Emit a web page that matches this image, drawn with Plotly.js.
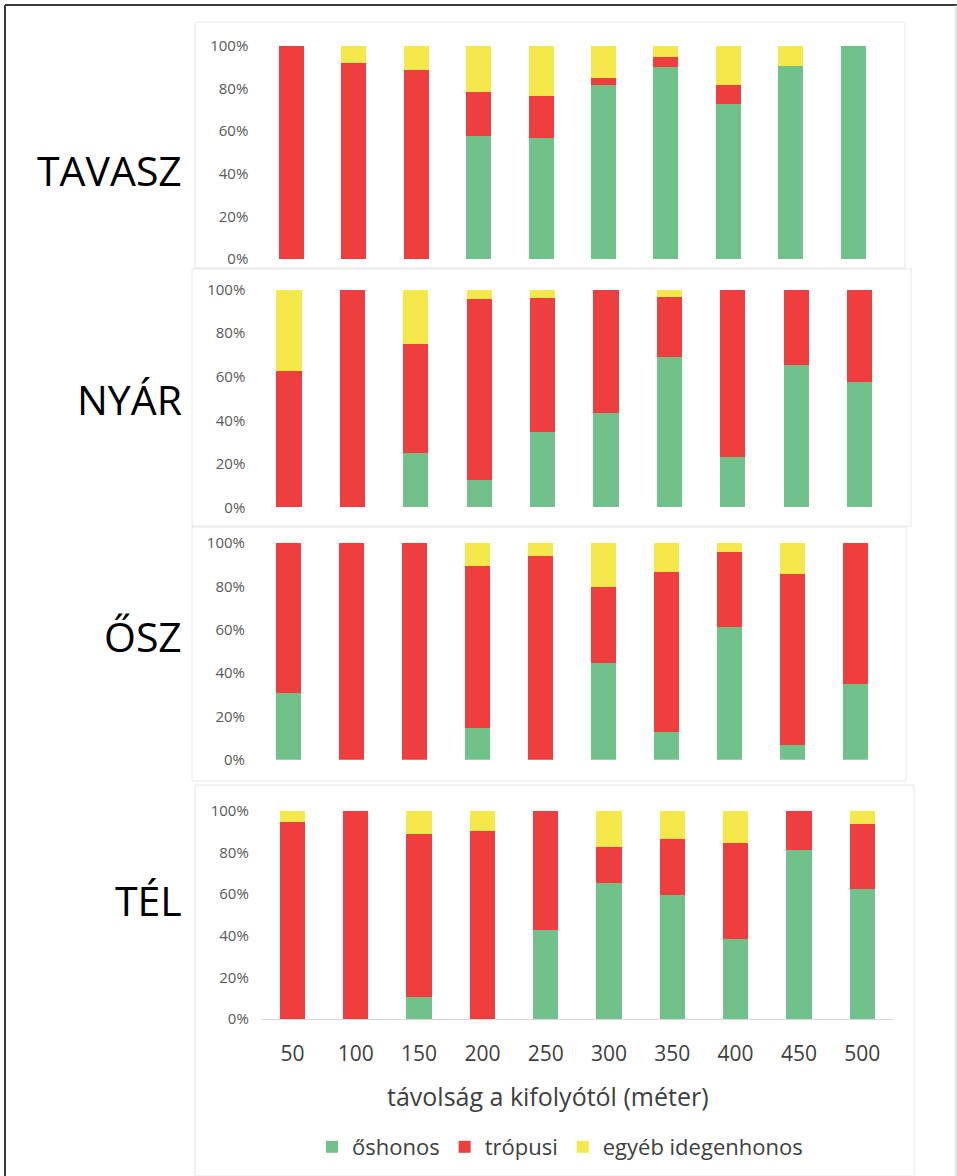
<!DOCTYPE html>
<html>
<head>
<meta charset="utf-8">
<script src="https://cdn.plot.ly/plotly-3.0.1.min.js"></script>
<style>html,body{margin:0;padding:0;background:#fff;}#chart{width:957px;height:1176px;}</style>
</head>
<body>
<div id="chart"></div>
<script>
// Distance categories (m)
const categories = ['50','100','150','200','250','300','350','400','450','500'];
const seriesNames = ['őshonos', 'trópusi', 'egyéb idegenhonos'];
const seasonLabels = ['TAVASZ', 'NYÁR', 'ŐSZ', 'TÉL'];
const xTitle = 'távolság a kifolyótól (méter)';
const yTickVals = [0, 20, 40, 60, 80, 100];
const yTickText = ['0%', '20%', '40%', '60%', '80%', '100%'];

// Share (%) of each group per distance
const tavaszGreen  = [0, 0, 0, 57.7, 57.0, 81.6, 90.0, 73.0, 90.8, 100];
const tavaszRed    = [100, 92.2, 88.6, 20.9, 19.3, 3.2, 5.0, 8.6, 0, 0];
const tavaszYellow = [0, 7.8, 11.4, 21.4, 23.7, 15.2, 5.0, 18.4, 9.2, 0];

const nyarGreen  = [0, 0, 25.1, 12.7, 34.8, 43.2, 68.9, 23.0, 65.2, 57.7];
const nyarRed    = [62.8, 100, 50.1, 83.2, 61.5, 56.8, 27.9, 77.0, 34.8, 42.3];
const nyarYellow = [37.2, 0, 24.8, 4.1, 3.7, 0, 3.2, 0, 0, 0];

const oszGreen  = [30.8, 0, 0, 14.6, 0, 44.8, 12.8, 61.2, 6.8, 35.1];
const oszRed    = [69.2, 100, 100, 74.9, 94.2, 35.0, 74.0, 34.8, 78.7, 64.9];
const oszYellow = [0, 0, 0, 10.5, 5.8, 20.2, 13.2, 4.0, 14.5, 0];

const telGreen  = [0, 0, 10.6, 0, 42.6, 65.4, 59.6, 38.5, 81.3, 62.3];
const telRed    = [94.9, 100, 78.5, 90.4, 57.4, 17.5, 27.1, 46.3, 18.7, 31.6];
const telYellow = [5.1, 0, 10.9, 9.6, 0, 17.1, 13.3, 15.2, 0, 6.1];

const seasons = [
  [tavaszGreen, tavaszRed, tavaszYellow],
  [nyarGreen, nyarRed, nyarYellow],
  [oszGreen, oszRed, oszYellow],
  [telGreen, telRed, telYellow]
];

const colors = ['#70c28a', '#ee3e3e', '#f5e84a'];
const W = 957, H = 1176;
const FONT = '"Open Sans", "Noto Sans", sans-serif';

// Pixel geometry of each panel (x: plot left/right, y: 100% and 0% positions)
const panels = [
  {x0: 260.3, x1: 884.3, yTop: 46,    yBot: 259,    labelY: 170, box: [195, 22, 905, 268]},
  {x0: 257.3, x1: 891.3, yTop: 289.7, yBot: 507.3,  labelY: 399, box: [192, 269, 911, 526]},
  {x0: 257.0, x1: 887.0, yTop: 543,   yBot: 759.7,  labelY: 636, box: [192, 527, 906, 781]},
  {x0: 260.85,x1: 893.85,yTop: 811,   yBot: 1019,   labelY: 900, box: [195, 785, 914, 1176]}
];
const px = v => v / W;
const py = v => 1 - v / H;

const traces = [];
seasons.forEach((s, i) => {
  const suf = i === 0 ? '' : String(i + 1);
  s.forEach((vals, j) => {
    traces.push({
      type: 'bar',
      x: categories,
      y: vals,
      name: seriesNames[j],
      legendgroup: seriesNames[j],
      showlegend: i === 0,
      marker: {color: colors[j], line: {width: 0}},
      xaxis: 'x' + suf,
      yaxis: 'y' + suf,
      hoverinfo: 'skip'
    });
  });
});

const layout = {
  width: W, height: H,
  margin: {l: 0, r: 0, t: 0, b: 0},
  paper_bgcolor: '#ffffff',
  plot_bgcolor: 'rgba(0,0,0,0)',
  barmode: 'stack',
  bargap: 0.6,
  font: {family: FONT, color: '#595959'},
  showlegend: true,
  legend: {
    orientation: 'h',
    x: px(560), xanchor: 'center',
    y: py(1147), yanchor: 'middle',
    font: {family: FONT, size: 22, color: '#404040'},
    itemwidth: 30,
    traceorder: 'normal'
  },
  annotations: [],
  shapes: []
};

panels.forEach((p, i) => {
  const suf = i === 0 ? '' : String(i + 1);
  const last = i === panels.length - 1;
  layout['xaxis' + suf] = {
    domain: [px(p.x0), px(p.x1)],
    anchor: 'y' + suf,
    type: 'category',
    showgrid: false,
    zeroline: false,
    showline: last,
    linecolor: '#d9d9d9',
    linewidth: 1,
    ticks: '',
    showticklabels: last,
    tickfont: {family: FONT, size: 21, color: '#404040'},
    ticklabelstandoff: 16,
    fixedrange: true
  };
  layout['yaxis' + suf] = {
    domain: [py(p.yBot), py(p.yTop)],
    anchor: 'x' + suf,
    range: [0, 100],
    tickmode: 'array',
    tickvals: yTickVals,
    ticktext: yTickText,
    showgrid: false,
    zeroline: false,
    showline: false,
    ticks: '',
    tickfont: {family: FONT, size: 15, color: '#595959'},
    ticklabelstandoff: 11,
    fixedrange: true
  };
  layout.annotations.push({
    xref: 'paper', yref: 'paper',
    x: px(184), y: py(p.labelY),
    xanchor: 'right', yanchor: 'middle',
    text: seasonLabels[i],
    showarrow: false,
    font: {family: FONT, size: 41, color: '#000000'}
  });
  const b = p.box;
  layout.shapes.push({
    type: 'rect', xref: 'paper', yref: 'paper',
    x0: px(b[0]), x1: px(b[2]), y0: py(b[3]), y1: py(b[1]),
    line: {color: '#e6e6e6', width: 1}, fillcolor: 'rgba(0,0,0,0)', layer: 'below'
  });
});

layout.annotations.push({
  xref: 'paper', yref: 'paper',
  x: px(548), y: py(1096),
  xanchor: 'center', yanchor: 'middle',
  text: xTitle, showarrow: false,
  font: {family: FONT, size: 25, color: '#404040'}
});

// Outer frame
layout.shapes.push(
  {type: 'line', xref: 'paper', yref: 'paper', x0: px(5), x1: 1, y0: py(5), y1: py(5), line: {color: '#3a3a3a', width: 2}},
  {type: 'line', xref: 'paper', yref: 'paper', x0: px(5), x1: px(5), y0: py(5), y1: 0, line: {color: '#3a3a3a', width: 2}},
  {type: 'line', xref: 'paper', yref: 'paper', x0: px(956), x1: px(956), y0: py(5), y1: 0, line: {color: '#cccccc', width: 1}}
);

Plotly.newPlot('chart', traces, layout, {displayModeBar: false, staticPlot: true});
</script>
</body>
</html>
